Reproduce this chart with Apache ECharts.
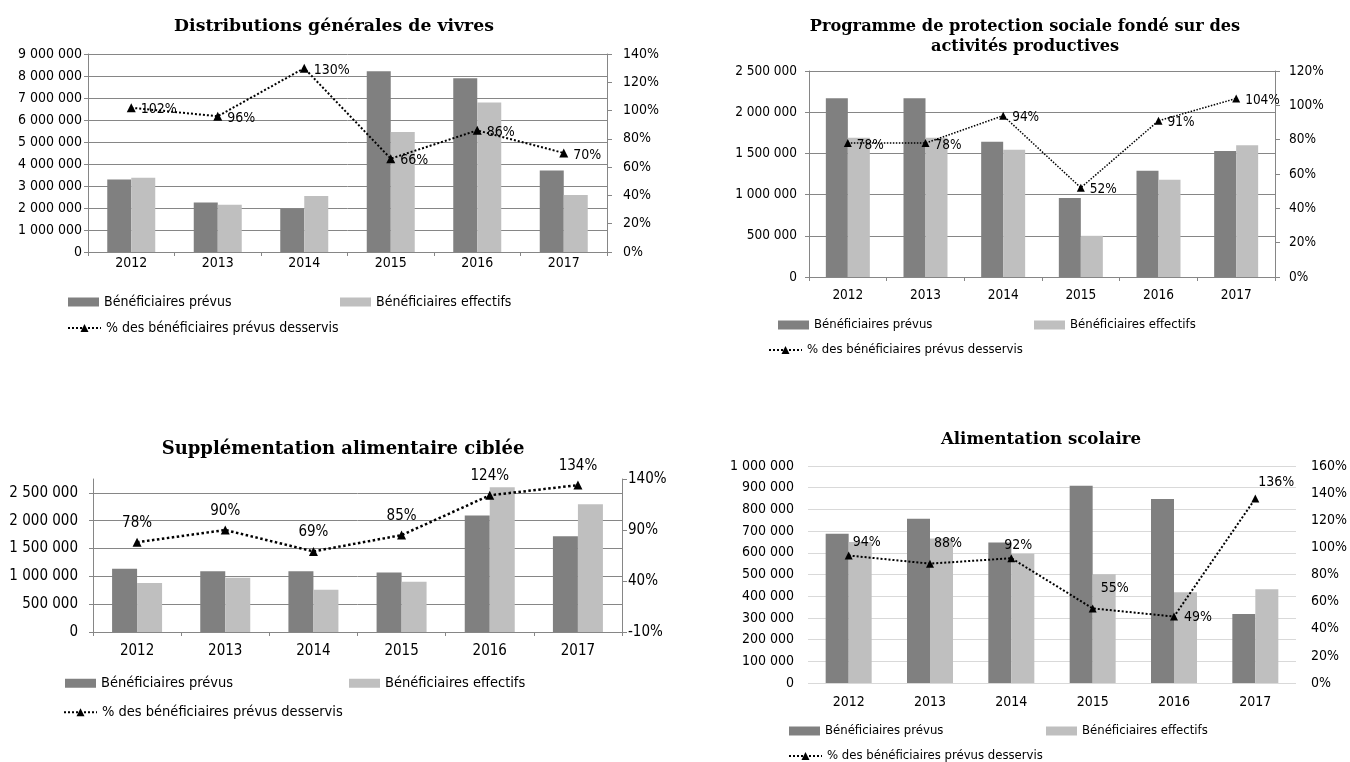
<!DOCTYPE html>
<html>
<head>
<meta charset="utf-8">
<title>Bénéficiaires prévus et effectifs</title>
<script src="https://cdn.jsdelivr.net/npm/echarts@6/dist/echarts.min.js"></script>
<style>
  body { margin: 0; background: #fff; }
  .chart { position: absolute; width: 675px; height: 381px; }
</style>
</head>
<body>
<div id="chart-vivres" class="chart" style="left:0;top:0;"></div>
<div id="chart-prod" class="chart" style="left:675px;top:0;"></div>
<div id="chart-supp" class="chart" style="left:0;top:381px;"></div>
<div id="chart-scol" class="chart" style="left:675px;top:381px;"></div>
<script>
  var years = ['2012', '2013', '2014', '2015', '2016', '2017'];

  // Distributions générales de vivres
  var vivresPrevus = [3300000, 2250000, 1960000, 8220000, 7900000, 3700000];
  var vivresEffectifs = [3380000, 2150000, 2540000, 5460000, 6800000, 2590000];
  var vivresPct = [102, 96, 130, 66, 86, 70];

  // Programme de protection sociale fondé sur des activités productives
  var prodPrevus = [2170000, 2170000, 1640000, 960000, 1290000, 1530000];
  var prodEffectifs = [1690000, 1690000, 1545000, 500000, 1180000, 1600000];
  var prodPct = [78, 78, 94, 52, 91, 104];

  // Supplémentation alimentaire ciblée
  var suppPrevus = [1135000, 1090000, 1090000, 1068000, 2093000, 1723000];
  var suppEffectifs = [880000, 977000, 760000, 904000, 2603000, 2294000];
  var suppPct = [78, 90, 69, 85, 124, 134];

  // Alimentation scolaire
  var scolPrevus = [688000, 757000, 647000, 909000, 848000, 318000];
  var scolEffectifs = [650000, 666000, 596000, 501000, 418000, 432000];
  var scolPct = [94, 88, 92, 55, 49, 136];
  var scolLabelOffsets = [[18, -13], [18, -20], [7, -13], [22, -20], [24, 1], [21, -16]];

  var legendNames = ['Bénéficiaires prévus', 'Bénéficiaires effectifs', '% des bénéficiaires prévus desservis'];

  var LABEL_FONT = '"DejaVu Sans Condensed", "DejaVu Sans", sans-serif';
  var TITLE_FONT = '"DejaVu Serif", serif';

  function fmtNumber(v) {
    return String(v).replace(/\B(?=(\d{3})+(?!\d))/g, ' ');
  }

  function legendAt(name, pos, fs, isLine) {
    var lg = {
      data: [name],
      left: pos[0],
      top: pos[1] - fs / 2,
      padding: 0,
      itemWidth: isLine ? 33 : 31,
      itemHeight: isLine ? 10 : 9,
      selectedMode: false,
      textStyle: { fontFamily: LABEL_FONT, fontSize: fs, color: '#000' }
    };
    if (!isLine) lg.icon = 'rect';
    return lg;
  }

  function showChart(id, c) {
    var gray = c.light ? '#d9d9d9' : '#868686';
    var pctData = c.pct;
    if (c.labelOffsets) {
      pctData = c.pct.map(function (v, i) {
        return { value: v, label: { offset: c.labelOffsets[i] } };
      });
    }
    var option = {
      animation: false,
      title: {
        text: c.title,
        left: c.titleX,
        top: c.titleTop,
        padding: 0,
        textAlign: 'center',
        textVerticalAlign: 'top',
        textStyle: { fontFamily: TITLE_FONT, fontWeight: 'bold', fontSize: c.titleSize, lineHeight: c.titleLine || c.titleSize, color: '#000' }
      },
      grid: { left: c.grid[0], top: c.grid[1], width: c.grid[2], height: c.grid[3] },
      legend: [
        legendAt(legendNames[0], c.legend[0], c.legendSize, false),
        legendAt(legendNames[1], c.legend[1], c.legendSize, false),
        legendAt(legendNames[2], c.legend[2], c.legendSize, true)
      ],
      xAxis: {
        type: 'category',
        data: years,
        axisLine: { show: !c.light, lineStyle: { color: gray } },
        axisTick: { show: !c.light, length: 4, lineStyle: { color: gray } },
        axisLabel: { color: '#000', fontFamily: LABEL_FONT, fontSize: c.fontSize, margin: c.xMargin }
      },
      yAxis: [
        {
          type: 'value',
          min: 0,
          max: c.leftMax,
          interval: c.leftInterval,
          axisLine: { show: !c.light, lineStyle: { color: gray } },
          axisTick: { show: !c.light, length: 4, lineStyle: { color: gray } },
          splitLine: { show: true, showMaxLine: !c.hideTopLine, lineStyle: { color: gray, width: 1 } },
          axisLabel: {
            color: '#000', fontFamily: LABEL_FONT, fontSize: c.fontSize, margin: c.leftMargin,
            showMaxLabel: !c.hideTopLine, formatter: fmtNumber
          }
        },
        {
          type: 'value',
          position: 'right',
          min: c.rightMin,
          max: c.rightMax,
          interval: c.rightInterval,
          axisLine: { show: !c.light, lineStyle: { color: gray } },
          axisTick: { show: !c.light, length: 5, lineStyle: { color: gray } },
          splitLine: { show: false },
          axisLabel: { color: '#000', fontFamily: LABEL_FONT, fontSize: c.fontSize, margin: c.rightMargin, formatter: '{value}%' }
        }
      ],
      series: [
        {
          name: legendNames[0], type: 'bar', data: c.prevus,
          barWidth: c.barWidth, barGap: '0%',
          itemStyle: { color: '#808080' }
        },
        {
          name: legendNames[1], type: 'bar', data: c.effectifs,
          barWidth: c.barWidth, barGap: '0%',
          itemStyle: { color: '#bfbfbf' }
        },
        {
          name: legendNames[2], type: 'line', yAxisIndex: 1, data: pctData, z: 5,
          symbol: 'triangle', symbolSize: c.symbolSize,
          itemStyle: { color: '#000' },
          lineStyle: { color: '#000', width: c.lineWidth, type: 'dotted' },
          label: {
            show: true, position: c.labelPos, distance: c.labelDistance, offset: c.labelOffset || [0, 0],
            formatter: '{c}%', color: '#000', fontFamily: LABEL_FONT, fontSize: c.labelSize
          }
        }
      ]
    };
    var chart = echarts.init(document.getElementById(id));
    chart.setOption(option);
  }

  showChart('chart-vivres', {
    title: 'Distributions générales de vivres', titleX: 334, titleTop: 18, titleSize: 17.3,
    grid: [88, 54, 519, 198],
    prevus: vivresPrevus, effectifs: vivresEffectifs, pct: vivresPct,
    leftMax: 9000000, leftInterval: 1000000, rightMin: 0, rightMax: 140, rightInterval: 20,
    barWidth: 24, fontSize: 14, legendSize: 14, labelSize: 14,
    xMargin: 4, leftMargin: 6, rightMargin: 16,
    symbolSize: 9, lineWidth: 2, labelPos: 'right', labelDistance: 5, labelOffset: [0, 2],
    legend: [[68, 302], [340, 302], [67, 328]]
  });

  showChart('chart-prod', {
    title: 'Programme de protection sociale fondé sur des\nactivités productives', titleX: 350, titleTop: 17, titleSize: 16.2, titleLine: 20,
    grid: [134, 71, 466, 206],
    prevus: prodPrevus, effectifs: prodEffectifs, pct: prodPct,
    leftMax: 2500000, leftInterval: 500000, rightMin: 0, rightMax: 120, rightInterval: 20,
    barWidth: 22, fontSize: 13.5, legendSize: 13, labelSize: 13.5,
    xMargin: 11, leftMargin: 12, rightMargin: 14,
    symbolSize: 8, lineWidth: 1.5, labelPos: 'right', labelDistance: 5, labelOffset: [0, 2],
    legend: [[103, 325], [359, 325], [93, 350]]
  });

  showChart('chart-supp', {
    title: 'Supplémentation alimentaire ciblée', titleX: 343, titleTop: 59, titleSize: 18,
    grid: [93, 98, 529, 153],
    prevus: suppPrevus, effectifs: suppEffectifs, pct: suppPct,
    leftMax: 2750000, leftInterval: 500000, hideTopLine: true,
    rightMin: -10, rightMax: 140, rightInterval: 50,
    barWidth: 25, fontSize: 15, legendSize: 14.5, labelSize: 15,
    xMargin: 12, leftMargin: 15, rightMargin: 6,
    symbolSize: 9, lineWidth: 2.5, labelPos: 'top', labelDistance: 7,
    legend: [[65, 302], [349, 302], [63, 331]]
  });

  showChart('chart-scol', {
    title: 'Alimentation scolaire', titleX: 366, titleTop: 50, titleSize: 16.6,
    grid: [133, 85, 492, 217], light: true,
    prevus: scolPrevus, effectifs: scolEffectifs, pct: scolPct, labelOffsets: scolLabelOffsets,
    leftMax: 1000000, leftInterval: 100000, rightMin: 0, rightMax: 160, rightInterval: 20,
    barWidth: 23, fontSize: 14, legendSize: 13, labelSize: 14,
    xMargin: 12, leftMargin: 14, rightMargin: 15,
    symbolSize: 8, lineWidth: 2, labelPos: 'inside', labelDistance: 0,
    legend: [[114, 350], [371, 350], [113, 375]]
  });
</script>
</body>
</html>
